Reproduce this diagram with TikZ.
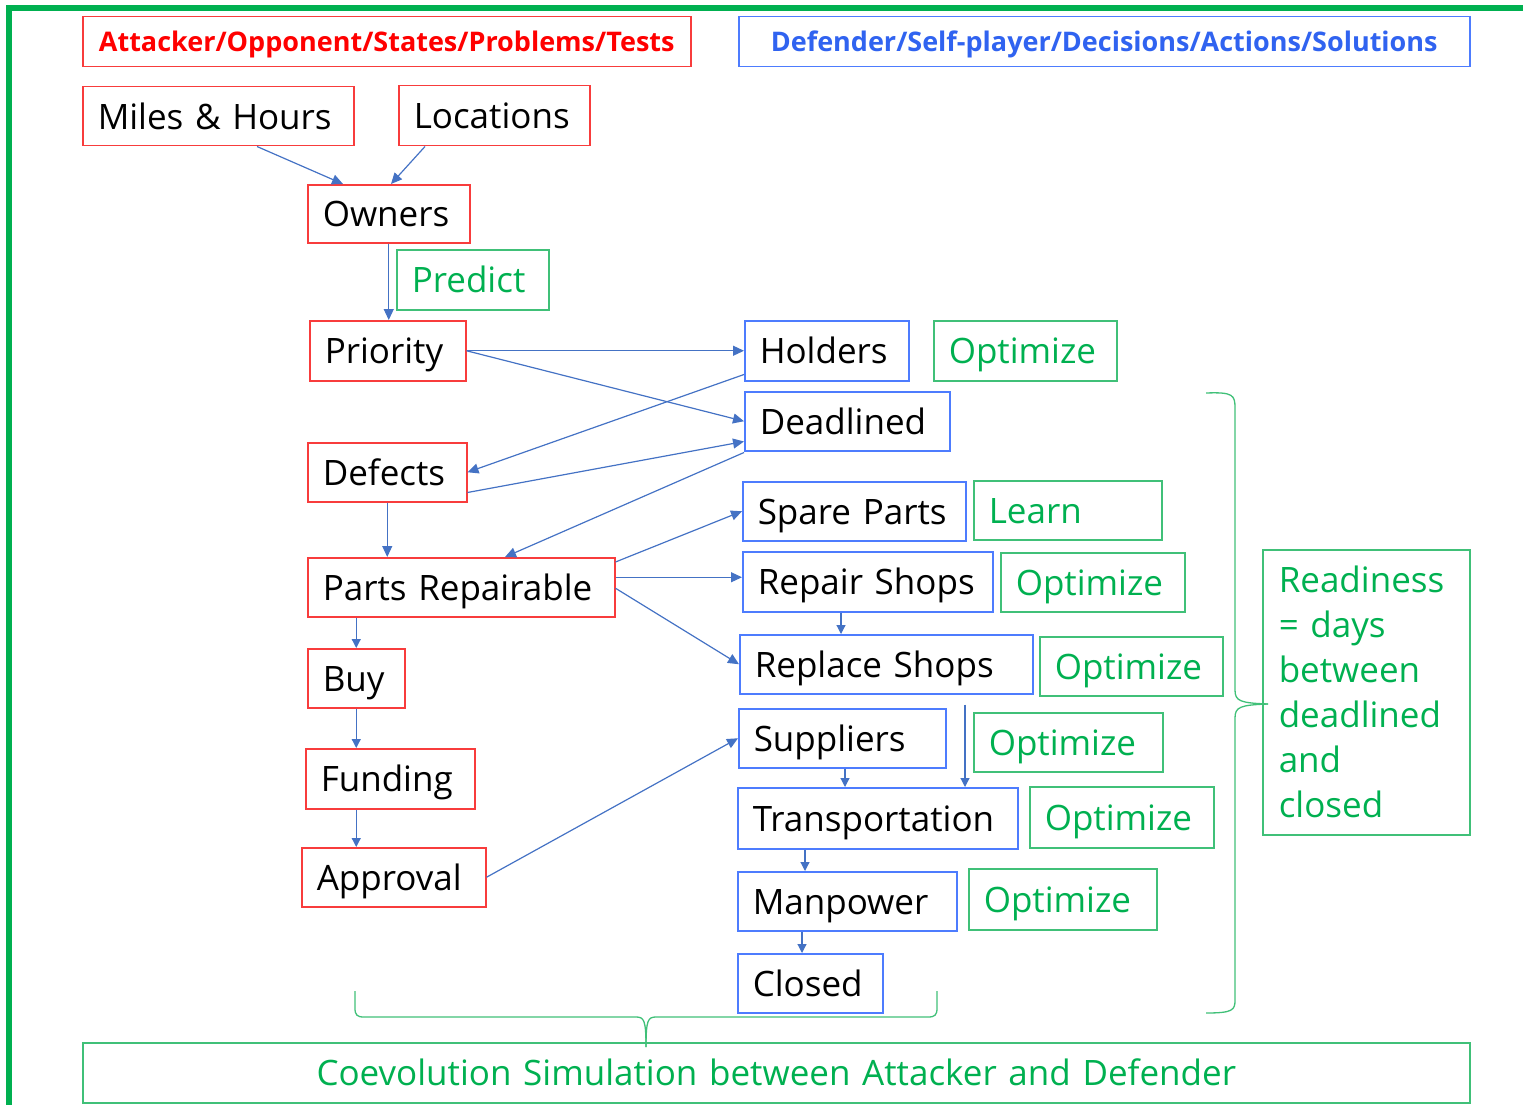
\documentclass[tikz,border=0pt]{standalone}
\usepackage{fontspec}
\setmainfont{Open Sans}
\usetikzlibrary{arrows.meta}
\definecolor{redline}{HTML}{F83C3C}
\definecolor{redtext}{HTML}{FF0000}
\definecolor{blueline}{HTML}{4D7CFE}
\definecolor{bluetext}{HTML}{3063F0}
\definecolor{arrowblue}{HTML}{4472C4}
\definecolor{greenline}{HTML}{40C078}
\definecolor{greentext}{HTML}{00B050}
\definecolor{frame}{HTML}{00B050}
\newcommand{\lblfont}{\fontsize{35}{42}\selectfont}
\newcommand{\hdrfont}{\fontsize{27}{32}\selectfont\bfseries}
\tikzset{
  box/.style={draw, rectangle, line width=1.5pt, anchor=north west, inner xsep=15pt, inner ysep=0pt, align=left, font=\lblfont, text=black, text height=34pt, text depth=8pt},
  rbox/.style={box, draw=redline},
  bbox/.style={box, draw=blueline},
  gbox/.style={box, draw=greenline, text=greentext},
  hbox/.style={box, font=\hdrfont, align=center, text height=26pt, text depth=6pt, minimum height=50pt},
  conn/.style={draw=arrowblue, line width=1.2pt, -{Triangle[length=11pt,width=10pt]}},
  sconn/.style={draw=arrowblue, line width=1.2pt, -{Triangle[length=9pt,width=9pt]}},
  bracepath/.style={draw=greenline, line width=1.3pt}
}
\begin{document}
\begin{tikzpicture}[x=1pt,y=-1pt]
\useasboundingbox (0,0) rectangle (1523,1105);
% outer frame
\draw[frame, line width=6pt] (9,1110) -- (9,8) -- (1530,8);
% headers
\node[hbox, draw=redline, text=redtext, text width=578pt] (hdrA) at (82,16) {Attacker/Opponent/States/Problems/Tests};
\node[hbox, draw=blueline, text=bluetext, text width=701pt] (hdrD) at (738,16) {Defender/Self-player/Decisions/Actions/Solutions};
% attacker nodes
\node[rbox, text width=241pt, minimum height=59pt] (miles) at (82,86) {Miles \& Hours};
\node[rbox, text width=161pt, minimum height=60pt] (loc) at (398,85) {Locations};
\node[rbox, text width=132pt, minimum height=58pt] (owners) at (307,184) {Owners};
\node[gbox, text width=122pt, minimum height=60pt] (predict) at (396,249) {Predict};
\node[rbox, text width=126pt, minimum height=60pt] (priority) at (309,320) {Priority};
\node[rbox, text width=129pt, minimum height=59pt] (defects) at (307,442) {Defects};
\node[rbox, text width=277pt, minimum height=59pt] (parts) at (307,557) {Parts Repairable};
\node[rbox, text width=67pt, minimum height=59pt] (buy) at (307,648) {Buy};
\node[rbox, text width=139pt, minimum height=60pt] (funding) at (305,748) {Funding};
\node[rbox, text width=154pt, minimum height=59pt] (approval) at (301,847) {Approval};
% defender nodes
\node[bbox, text width=134pt, minimum height=60pt] (holders) at (744,320) {Holders};
\node[gbox, text width=153pt, minimum height=60pt] (opt1) at (933,320) {Optimize};
\node[bbox, text width=175pt, minimum height=59pt] (deadl) at (744,391) {Deadlined};
\node[bbox, text width=193pt, minimum height=59pt] (spare) at (742,481) {Spare Parts};
\node[gbox, text width=158pt, minimum height=59pt] (learn) at (973,480) {Learn};
\node[bbox, text width=220pt, minimum height=60pt] (repair) at (742,551) {Repair Shops};
\node[gbox, text width=154pt, minimum height=59pt] (opt2) at (1000,552) {Optimize};
\node[bbox, text width=263pt, minimum height=59pt] (replace) at (739,634) {Replace Shops};
\node[gbox, text width=153pt, minimum height=59pt] (opt3) at (1039,636) {Optimize};
\node[bbox, text width=177pt, minimum height=59pt] (suppl) at (738,708) {Suppliers};
\node[gbox, text width=159pt, minimum height=59pt] (opt4) at (973,712) {Optimize};
\node[bbox, text width=250pt, minimum height=61pt] (transp) at (737,787) {Transportation};
\node[gbox, text width=154pt, minimum height=61pt] (opt5) at (1029,786) {Optimize};
\node[bbox, text width=189pt, minimum height=59pt] (manp) at (737,871) {Manpower};
\node[gbox, text width=158pt, minimum height=61pt] (opt6) at (968,868) {Optimize};
\node[bbox, text width=115pt, minimum height=59pt] (closed) at (737,953) {Closed};
% readiness and bottom
\node[box, draw=greenline, text=greentext, text height=, text depth=, font=\fontsize{35}{45}\selectfont, text width=175pt, inner xsep=16pt, minimum height=285pt] (ready) at (1262,549) {Readiness\\= days\\between\\deadlined\\and\\closed};
\node[gbox, align=center, text width=1357pt, minimum height=60pt] (coevo) at (82,1042) {Coevolution Simulation between Attacker and Defender};
% connectors
\draw[conn] ([xshift=175pt]miles.south west) -- ([xshift=36pt]owners.north west);
\draw[conn] ([xshift=27pt]loc.south west) -- ([xshift=84pt]owners.north west);
\draw[conn] (owners.south) -- (owners.south |- priority.north);
\draw[conn] (priority.east) -- (holders.west);
\draw[conn] (priority.east) -- (deadl.west);
\draw[conn] ([yshift=7pt]holders.south west) -- (defects.east);
\draw[conn] ([yshift=10pt]defects.south east) -- ([yshift=10pt]deadl.south west);
\draw[conn] ([yshift=-1pt]deadl.south west) -- ([xshift=198pt]parts.north west);
\draw[conn] (defects.south) -- (defects.south |- parts.north);
\draw[conn] ([yshift=-5pt]parts.north east) -- (spare.west);
\draw[conn] ([yshift=10pt]parts.east) -- ([yshift=10pt]parts.east -| repair.west);
\draw[conn] ([yshift=-1pt]parts.east) -- (replace.west);
\draw[sconn] ([xshift=99pt]repair.south west) -- ([xshift=99pt]repair.south west |- replace.north);
\draw[sconn] (buy.north |- parts.south) -- (buy.north);
\draw[sconn] (buy.south) -- (buy.south |- funding.north);
\draw[sconn] (funding.south -| buy.south) -- (approval.north -| buy.south);
\draw[conn] (approval.east) -- (suppl.west);
\draw[sconn] ([xshift=107pt]suppl.south west) -- ([xshift=107pt]suppl.south west |- transp.north);
\draw[sconn] ([xshift=226pt,yshift=-10pt]replace.south west) -- ([xshift=226pt]replace.south west |- transp.north);
\draw[sconn] ([xshift=68pt]transp.south west) -- ([xshift=68pt]transp.south west |- manp.north);
\draw[sconn] ([xshift=65pt]manp.south west) -- ([xshift=65pt]manp.south west |- closed.north);
% right brace
\coordinate (rtip) at (1268,704);
\draw[bracepath] (1206,393) .. controls (1233,392) and (1235,395) .. (1235,408) -- (1235,690)
  .. controls (1235,701) and (1240,703) .. (rtip);
\draw[bracepath] (rtip) .. controls (1240,705) and (1235,707) .. (1235,718) -- (1235,1000)
  .. controls (1235,1010) and (1233,1013) .. (1206,1013);
% bottom brace
\coordinate (btip) at (646,1047);
\draw[bracepath] (355,991) -- (355,1008) .. controls (355,1015) and (357,1017) .. (364,1017) -- (636,1017)
  .. controls (644,1017) and (646,1020) .. (btip);
\draw[bracepath] (btip) .. controls (646,1020) and (648,1017) .. (656,1017) -- (928,1017)
  .. controls (935,1017) and (937,1015) .. (937,1008) -- (937,991);
\end{tikzpicture}
\end{document}
